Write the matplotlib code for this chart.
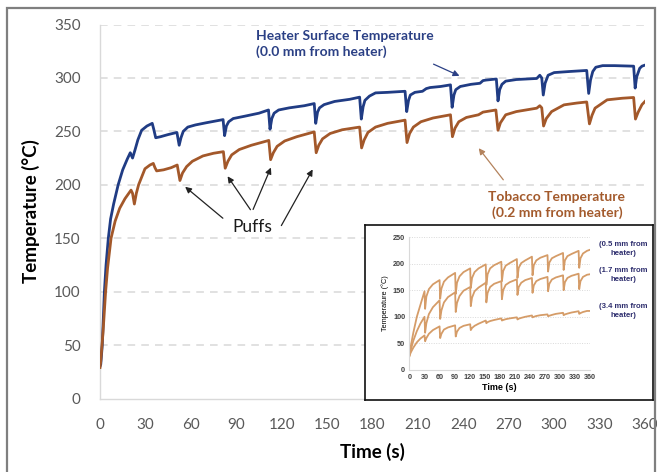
import matplotlib
matplotlib.use("Agg")
import matplotlib.pyplot as plt
from matplotlib.patches import Rectangle

# ---------------- data ----------------
heater_t = [0, 0.5, 1.5, 2.9, 4, 5.5, 7, 9, 12, 15, 18, 20, 21.5, 23, 25, 27.5, 31, 34.5, 35.5, 36.8,
            40, 45, 50.8, 52.3, 53.5, 55, 58, 63, 70, 81.3, 82.3, 83.5, 85, 88, 95, 105, 111.3, 112.3,
            113.5, 115, 118, 125, 135, 141.5, 142.5, 143.7, 145, 148, 155, 165, 171.5, 172.6, 173.8,
            175, 178, 182, 190, 201.5, 202.6, 203.8, 205, 208, 213, 215.5, 218, 225, 231.5, 232.6,
            233.8, 235, 238, 245, 251, 253, 255, 261.8, 262.9, 264, 265.5, 268, 275, 288.5, 290.5,
            291.8, 292.8, 294, 296, 300, 310, 321.5, 322.8, 324, 325.5, 327.5, 332, 340, 352.5,
            353.5, 354.5, 356.5, 358, 360]
heater_T = [30, 32, 50, 100, 125, 150, 168, 182, 200, 214, 224, 230, 225, 232, 242, 251, 255, 257.5, 252, 244,
            245, 247, 249, 237, 244, 250, 254, 256, 258, 261, 246, 255, 259, 262, 264, 267, 270, 252,
            262, 267, 270, 272, 274, 276, 257.5, 268, 272, 275, 278, 280, 282, 261.5, 273,
            279, 283, 286, 286.5, 287.5, 268.5, 279, 284, 286.5, 287.5, 290, 291, 292, 293.5, 272.5,
            284, 289, 292, 294, 295, 297.5, 298, 299, 278.5, 289, 294, 297, 298.5, 299.5, 302.5,
            300, 284, 295, 302.5, 305, 306, 307, 285.5, 298, 306, 310, 311.5, 311.5, 311,
            290.5, 301, 309, 311, 312]

tobacco_t = [0, 0.5, 2, 3.7, 5, 7.3, 10, 13, 16.5, 20.5, 21.5, 22.7, 24, 25.5, 29.7, 33, 35.2, 36.3, 37.4,
             42, 47, 51, 52.8, 54.5, 57.2, 61, 68, 75, 81.5, 82.7, 84.5, 87, 92, 100, 111.5, 112.7,
             114.5, 117, 122, 130, 141.5, 142.8, 144.5, 147, 152, 160, 171.5, 172.8, 174.5, 177, 182,
             190, 201.5, 202.8, 204.5, 207, 212, 220, 231.5, 232.8, 234.5, 237, 242, 250, 253, 261.5,
             262.9, 264.5, 268, 275, 288.5, 290.5, 291.8, 293, 294.8, 298.3, 306.5, 315, 321.5, 323.3,
             325, 327, 335, 345, 352.5, 353.7, 355.5, 358, 360]
tobacco_T = [29, 35, 62, 100, 122, 150, 166, 178, 187, 195, 192, 182, 192, 200, 215, 218.5, 220, 216, 213,
             214, 216, 218.5, 204, 211, 217, 222, 227, 229.5, 231, 215.5, 222, 228, 233, 237, 241.5, 223.5,
             230, 236, 241, 245, 249.5, 230, 237, 243, 248, 251.5, 254, 234.5, 242, 249, 254,
             257.5, 260.5, 239.5, 248, 254, 259, 262.5, 265.5, 245, 253, 259, 263, 265.5, 268, 270,
             251, 258, 265.5, 268.5, 271.7, 274, 272, 255, 262, 268.5, 274.8, 276.5, 277.5, 257,
             265, 271.7, 279.5, 281, 281.7, 261.5, 268, 275, 278]

inset_t = [0, 3, 8, 15, 22, 30.3, 31.5, 34, 39, 47, 60.3, 61.5, 64, 69, 77, 91.3, 92.5, 95, 100, 108,
           121.3, 122.5, 125, 130, 138, 152.3, 153.5, 156, 161, 169, 183.3, 184.5, 187, 192, 200,
           214.3, 215.5, 218, 223, 231, 244.3, 245.5, 248, 253, 261, 275.3, 276.5, 279, 284, 292,
           306.3, 307.5, 310, 315, 323, 337.3, 338.5, 341, 346, 354, 360]
inset_05mm = [26, 45, 70, 100, 122, 148, 115, 138, 152, 161, 169, 134, 153, 166, 174, 182.5, 143, 164, 176, 184,
              191, 154, 173, 184, 191, 198.5, 160, 180, 191, 197, 203.5, 167, 186, 196, 201,
              208.5, 173, 192, 201, 206, 213, 178, 197, 206, 211, 216, 185, 202, 210, 214,
              220, 188, 206, 214, 218, 224, 192, 210, 219, 224, 226]
inset_17mm = [26, 38, 55, 73, 87, 100, 70, 88, 105, 118, 131, 96, 112, 127, 137, 146, 109, 126, 139, 149,
              156, 120, 136, 148, 155, 164, 127, 145, 156, 162, 167, 133, 150, 160, 165,
              170.5, 141, 156, 164, 169, 173, 145, 159, 167, 171, 175, 148, 162, 170, 174,
              178, 150, 165, 173, 177, 181, 152, 167, 175, 179, 180]
inset_34mm = [26, 33, 42, 52, 59, 65, 54, 60, 68, 75, 82, 60, 68, 76, 80, 84, 63, 72, 79, 83,
              86, 75, 79, 83, 87, 93, 88, 90, 92, 94, 97, 93, 94, 95.5, 97,
              99, 95, 96.5, 98, 100, 102.5, 99, 100, 101.5, 103, 104.5, 101, 102, 103.5, 105.5,
              107.5, 103, 104.5, 106, 108, 110.5, 105.5, 107, 109, 111, 111]

x_ticks = list(range(0, 361, 30))
y_ticks = list(range(0, 351, 50))
inset_y_ticks = list(range(0, 251, 50))

# ---------------- figure ----------------
W, H = 657, 472
fig = plt.figure(figsize=(W / 100, H / 100), dpi=100)
fig.patch.set_facecolor("white")

def fx(px):
    return px / W

def fy(py):
    return 1 - py / H

MAIN_FONT = "Lato"
INSET_FONT = "Liberation Sans"
BLUE = "#203c84"
BROWN = "#a3582a"
GRID = "#d9d9d9"
TICK = "#595959"

# outer frame
fig.patches.append(Rectangle((fx(7), -0.02), fx(655) - fx(7), fy(8) + 0.02,
                             transform=fig.transFigure, fill=False,
                             edgecolor="#7f7f7f", linewidth=1.6, zorder=0))

ax = fig.add_axes([fx(100), fy(398.5), fx(645) - fx(100), fy(24.5) - fy(398.5)])
ax.plot(heater_t, heater_T, color=BLUE, lw=2.0, solid_joinstyle="round", zorder=3)
ax.plot(tobacco_t, tobacco_T, color=BROWN, lw=2.0, solid_joinstyle="round", zorder=3)
ax.set_xlim(0, 360)
ax.set_ylim(0, 350)
ax.set_xticks(x_ticks)
ax.set_yticks(y_ticks)
ax.tick_params(length=0, labelsize=11, colors=TICK, pad=4)
ax.tick_params(axis="x", pad=14)
ax.tick_params(axis="y", pad=14)
for lab in ax.get_xticklabels() + ax.get_yticklabels():
    lab.set_fontfamily(MAIN_FONT)
for yv in y_ticks[1:]:
    ax.axhline(yv, color=GRID, lw=1.1, ls=(0, (5, 4)), zorder=1)
for s in ["top", "right"]:
    ax.spines[s].set_visible(False)
for s in ["left", "bottom"]:
    ax.spines[s].set_color(GRID)
    ax.spines[s].set_linewidth(1.0)
ax.set_xlabel("Time (s)", fontsize=13.5, fontweight="bold", fontfamily=MAIN_FONT, labelpad=8)
ax.set_ylabel("Temperature (°C)", fontsize=13.5, fontweight="bold", fontfamily=MAIN_FONT, labelpad=10)

# annotations (figure pixel positions, top-left origin converted)
def fp(px, py):
    return (px, H - py)

fig.text(fx(256), fy(44), "Heater Surface Temperature\n(0.0 mm from heater)", color="#2b4085",
         fontsize=10, fontweight="bold", fontfamily=MAIN_FONT, va="center", ha="left", linespacing=1.35)
ax.annotate("", xy=fp(462, 77), xycoords="figure pixels", xytext=fp(431, 63), textcoords="figure pixels",
            arrowprops=dict(arrowstyle="-|>", color="#2b4085", lw=0.9, mutation_scale=9))

fig.text(fx(557), fy(205), "Tobacco Temperature\n(0.2 mm from heater)", color="#a35a2c",
         fontsize=10, fontweight="bold", fontfamily=MAIN_FONT, va="center", ha="center", linespacing=1.35)
ax.annotate("", xy=fp(477, 146), xycoords="figure pixels", xytext=fp(505, 182), textcoords="figure pixels",
            arrowprops=dict(arrowstyle="-|>", color="#b3825c", lw=0.9, mutation_scale=9))

fig.text(fx(252), fy(227), "Puffs", color="#1a1a1a", fontsize=12.5, fontfamily=MAIN_FONT,
         va="center", ha="center")
for (x0, y0, x1, y1) in [(225, 220, 183, 185), (252, 212, 226, 174), (252, 212, 272, 165), (280, 228, 314, 167)]:
    ax.annotate("", xy=fp(x1, y1), xycoords="figure pixels", xytext=fp(x0, y0), textcoords="figure pixels",
                arrowprops=dict(arrowstyle="-|>", color="#222222", lw=0.9, mutation_scale=9))

# ---------------- inset ----------------
box = fig.add_axes([fx(365), fy(400), fx(653) - fx(365), fy(225) - fy(400)], zorder=5)
box.set_xticks([])
box.set_yticks([])
box.set_facecolor("white")
for s in box.spines.values():
    s.set_color("#111111")
    s.set_linewidth(1.2)

ins = fig.add_axes([fx(409.3), fy(370), fx(590) - fx(409.3), fy(237) - fy(370)], zorder=6)
ins.set_facecolor("none")
LIGHT = "#d59c68"
ins.plot(inset_t, inset_05mm, color=LIGHT, lw=1.3)
ins.plot(inset_t, inset_17mm, color=LIGHT, lw=1.3)
ins.plot(inset_t, inset_34mm, color=LIGHT, lw=1.3)
ins.set_xlim(0, 360)
ins.set_ylim(0, 250)
ins.set_xticks(x_ticks)
ins.set_yticks(inset_y_ticks)
ins.tick_params(length=0, labelsize=5.2, colors="#404040", pad=3)
for lab in ins.get_xticklabels() + ins.get_yticklabels():
    lab.set_fontfamily(INSET_FONT)
    lab.set_fontweight("bold")
for yv in inset_y_ticks[1:]:
    ins.axhline(yv, color="#d9d9d9", lw=0.7, ls=(0, (1, 1.5)), zorder=0)
for s in ["top", "right"]:
    ins.spines[s].set_visible(False)
for s in ["left", "bottom"]:
    ins.spines[s].set_color("#d9d9d9")
    ins.spines[s].set_linewidth(0.8)
ins.set_xlabel("Time (s)", fontsize=6.5, fontweight="bold", fontfamily=INSET_FONT, labelpad=1)
ins.set_ylabel("Temperature (°C)", fontsize=5.2, fontfamily=INSET_FONT, labelpad=3)

for (yc, txt) in [(249, "(0.5 mm from\nheater)"), (275, "(1.7 mm from\nheater)"), (311, "(3.4 mm from\nheater)")]:
    fig.text(fx(623), fy(yc), txt, color="#2e2e6e", fontsize=5.6, fontweight="bold",
             fontfamily=INSET_FONT, ha="center", va="center", linespacing=1.25, zorder=7)

fig.savefig("out.png", dpi=100, facecolor="white")
